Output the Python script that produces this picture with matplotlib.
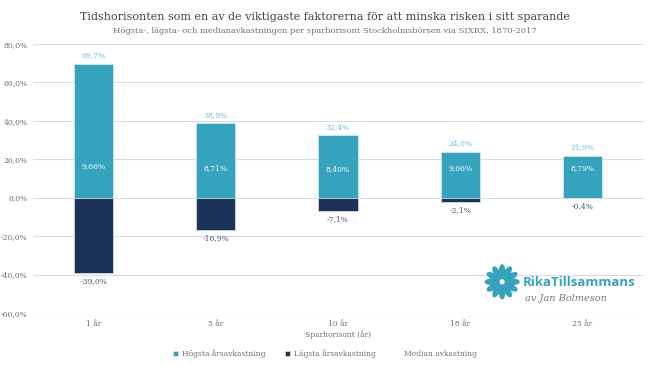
import numpy as np
import matplotlib.pyplot as plt
from matplotlib.patches import Ellipse

# Data
horizons = ["1 år", "5 år", "10 år", "18 år", "25 år"]
highest = [69.7, 38.9, 32.4, 24.0, 21.9]
lowest = [-39.0, -16.9, -7.1, -2.1, -0.4]
median = [9.66, 8.71, 8.40, 9.06, 8.79]

TEAL = "#35A2BE"
NAVY = "#1B3359"
GRID = "#DCDCDC"
TEXT = "#707070"

plt.rcParams['font.family'] = ['DejaVu Serif']

fig = plt.figure(figsize=(6.5, 3.66), dpi=100)
ax = fig.add_axes([0.05, 0.145, 0.94, 0.735])

x = np.arange(len(horizons))
w = 0.32
ax.bar(x, highest, w, color=TEAL, edgecolor="#CFE6EE", linewidth=0.6,
       label="Högsta årsavkastning", zorder=3)
ax.bar(x, lowest, w, color=NAVY, edgecolor="#CFD6E0", linewidth=0.6,
       label="Lägsta årsavkastning", zorder=3)
med_line, = ax.plot(x, median, linestyle="none", label="Median avkastning")

for xi, h, l, m in zip(x, highest, lowest, median):
    ax.annotate(("%.1f%%" % h).replace(".", ","), (xi, h), xytext=(0, 3),
                textcoords="offset points", ha="center", va="bottom",
                fontsize=5.5, color="#6FBFD6")
    ax.annotate(("%.1f%%" % l).replace(".", ","), (xi, l), xytext=(0, -3),
                textcoords="offset points", ha="center", va="top",
                fontsize=5.5, color="#4A5670")
    ax.annotate(("%.2f%%" % m).replace(".", ","), (xi, m), xytext=(0, 9),
                textcoords="offset points", ha="center", va="center",
                fontsize=5.5, color="white", zorder=5)

ax.set_ylim(-60, 80)
ax.set_xlim(-0.5, len(horizons) - 0.5)
yt = np.arange(-60, 81, 20)
ax.set_yticks(yt)
ax.set_yticklabels([("%.1f%%" % v).replace(".", ",") for v in yt])
ax.set_xticks(x)
ax.set_xticklabels(horizons)
ax.tick_params(axis="both", length=0, labelsize=5.5, colors=TEXT)
ax.tick_params(axis="x", pad=5)
ax.yaxis.grid(True, color=GRID, linewidth=0.8, zorder=0)
ax.set_axisbelow(True)
for s in ax.spines.values():
    s.set_visible(False)
ax.set_xlabel("Sparhorisont (år)", fontsize=5.5, color=TEXT, labelpad=2)

fig.text(0.5, 0.953, "Tidshorisonten som en av de viktigaste faktorerna för att minska risken i sitt sparande",
         ha="center", va="center", fontsize=8.0, color="#444444")
fig.text(0.5, 0.915, "Högsta-, lägsta- och medianavkastningen per sparhorisont Stockholmsbörsen via SIXRX, 1870-2017",
         ha="center", va="center", fontsize=6, color=TEXT)

handles, labels = ax.get_legend_handles_labels()
order = [labels.index("Högsta årsavkastning"), labels.index("Lägsta årsavkastning"),
         labels.index("Median avkastning")]
fig.legend([handles[i] for i in order], [labels[i] for i in order],
           loc="center", bbox_to_anchor=(0.5, 0.033), ncol=3, frameon=False,
           fontsize=5.5, handlelength=0.7, handleheight=0.7, handletextpad=0.5,
           columnspacing=2.5, labelcolor=TEXT)

# logo
lax = fig.add_axes([0.735, 0.18, 0.075, 0.1])
lax.set_xlim(-1, 1)
lax.set_ylim(-1, 1)
lax.set_aspect("equal")
lax.axis("off")
for a in np.arange(0, 360, 30):
    r = np.deg2rad(a)
    lax.add_patch(Ellipse((0.55 * np.cos(r), 0.55 * np.sin(r)), 0.75, 0.28,
                          angle=a, color=TEAL))
fig.text(0.805, 0.228, "RikaTillsammans", fontsize=9.5, fontweight="bold", color=TEAL,
         family="Open Sans", va="center")
fig.text(0.807, 0.185, "av Jan Bolmeson", fontsize=7, style="italic", color="#777777",
         va="center")

fig.savefig("out.png", dpi=100, facecolor="white")
